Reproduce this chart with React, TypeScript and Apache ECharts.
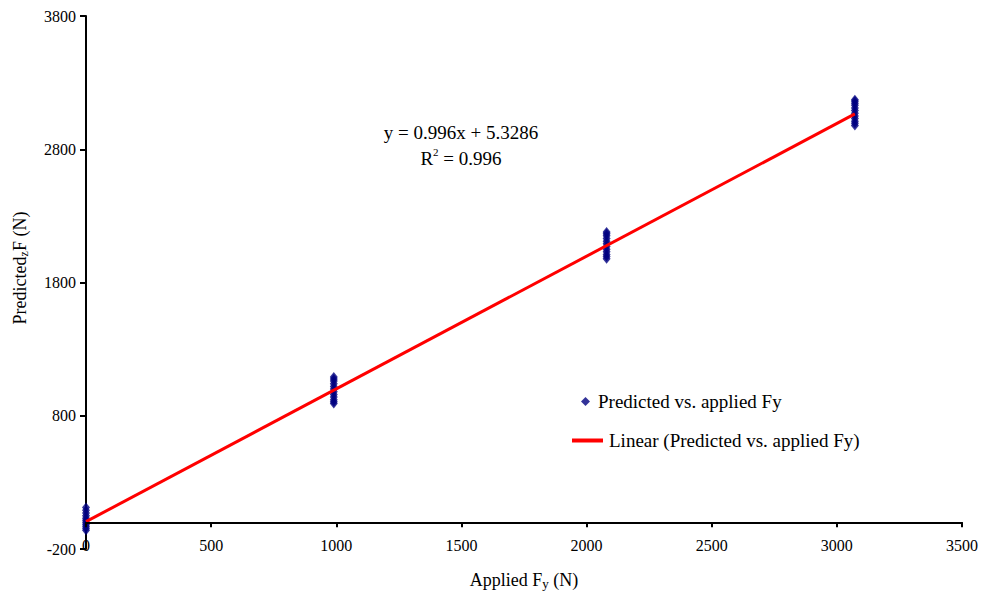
import React, { useEffect, useRef } from "react";
import * as echarts from "echarts";

const xTicks = [0, 500, 1000, 1500, 2000, 2500, 3000, 3500];
const yTicks = [-200, 800, 1800, 2800, 3800];

const appliedLevels = [0, 990, 2080, 3072];
const predicted0 = [-60, -45, -30, -15, 0, 15, 30, 50, 70, 90, 112];
const predicted1 = [891, 905, 920, 940, 960, 980, 1000, 1020, 1040, 1060, 1075, 1090];
const predicted2 = [1979, 1995, 2010, 2030, 2050, 2070, 2090, 2110, 2130, 2150, 2165, 2179];
const predicted3 = [2979, 2995, 3010, 3030, 3050, 3070, 3090, 3110, 3130, 3145, 3160, 3172];

const trendX = [0, 3072];
const trendY = [5.3, 3065];

const scatterName = "Predicted vs. applied Fy";
const lineName = "Linear (Predicted vs. applied Fy)";
const eqLine1 = "y = 0.996x + 5.3286";
const eqLine2 = " = 0.996";

export default function App() {
  const ref = useRef<HTMLDivElement>(null);
  useEffect(() => {
    if (!ref.current) return;
    const chart = echarts.init(ref.current, null, { renderer: "svg" });
    const groups = [predicted0, predicted1, predicted2, predicted3];
    const scatterData: number[][] = [];
    groups.forEach((g, i) => g.forEach((v) => scatterData.push([appliedLevels[i], v])));
    const font = "'Liberation Serif', 'Times New Roman', serif";
    const plotHeight = 591 - 16 - 42;
    const zeroOffset = (plotHeight * (0 - yTicks[0])) / (yTicks[yTicks.length - 1] - yTicks[0]);
    chart.setOption({
      animation: false,
      textStyle: { fontFamily: font },
      grid: { left: 86, right: 19, top: 16, bottom: 42, containLabel: false },
      xAxis: {
        type: "value",
        min: xTicks[0],
        max: xTicks[xTicks.length - 1],
        interval: 500,
        offset: -zeroOffset,
        axisLine: { onZero: false, lineStyle: { color: "#000", width: 2 } },
        axisTick: { show: true, length: 5, lineStyle: { color: "#000", width: 2 } },
        axisLabel: {
          color: "#000",
          fontSize: 16,
          fontFamily: font,
          margin: 15,
          showMinLabel: true,
          showMaxLabel: true,
          formatter: (v: number) => String(v),
        },
        splitLine: { show: false },
        z: 5,
      },
      yAxis: {
        type: "value",
        min: yTicks[0],
        max: yTicks[yTicks.length - 1],
        interval: 1000,
        axisLine: { show: true, onZero: false, lineStyle: { color: "#000", width: 2 } },
        axisTick: { show: true, length: 6, lineStyle: { color: "#000", width: 2 } },
        axisLabel: { color: "#000", fontSize: 16, fontFamily: font, margin: 10, formatter: (v: number) => String(v) },
        splitLine: { show: false },
      },
      legend: [
        {
          data: [{ name: scatterName, icon: "diamond" }],
          left: 576,
          top: 387,
          itemWidth: 9,
          itemHeight: 9,
          itemGap: 8,
          textStyle: { color: "#000", fontSize: 19, fontFamily: font, padding: [0, 0, 0, 3] },
          selectedMode: false,
        },
        {
          data: [{ name: lineName, icon: "rect" }],
          left: 567,
          top: 426,
          itemWidth: 31,
          itemHeight: 4,
          itemGap: 8,
          textStyle: { color: "#000", fontSize: 19, fontFamily: font, padding: [0, 0, 0, 1] },
          selectedMode: false,
        },
      ],
      series: [
        {
          name: scatterName,
          type: "scatter",
          symbol: "diamond",
          symbolSize: [8, 10],
          itemStyle: { color: "#000080" },
          data: scatterData,
          z: 2,
        },
        {
          name: lineName,
          type: "line",
          symbol: "none",
          lineStyle: { color: "#ff0000", width: 3 },
          itemStyle: { color: "#ff0000" },
          data: trendX.map((x, i) => [x, trendY[i]]),
          z: 3,
        },
      ],
      graphic: [
        {
          type: "text",
          x: 461,
          y: 132,
          style: {
            text: eqLine1,
            fontSize: 19,
            fontFamily: font,
            fill: "#000",
            align: "center",
            verticalAlign: "middle",
          },
        },
        {
          type: "text",
          x: 461,
          y: 158,
          style: {
            text: "{b|R}{sup|2}{b|" + eqLine2 + "}",
            fontFamily: font,
            fill: "#000",
            align: "center",
            verticalAlign: "middle",
            rich: {
              b: { fontSize: 19, fontFamily: font, fill: "#000" },
              sup: { fontSize: 11, fontFamily: font, fill: "#000", verticalAlign: "top", padding: [0, 0, 12, 0] },
            },
          },
        },
        {
          type: "text",
          x: 524,
          y: 580,
          style: {
            text: "{b|Applied F}{sub|y}{b| (N)}",
            fontFamily: font,
            fill: "#000",
            align: "center",
            verticalAlign: "middle",
            rich: {
              b: { fontSize: 18, fontFamily: font, fill: "#000" },
              sub: { fontSize: 13, fontFamily: font, fill: "#000", padding: [7, 0, 0, 0] },
            },
          },
        },
        {
          type: "text",
          x: 20,
          y: 268,
          rotation: Math.PI / 2,
          style: {
            text: "{b|Predicted}{sub|z}{b|F (N)}",
            fontFamily: font,
            fill: "#000",
            align: "center",
            verticalAlign: "middle",
            rich: {
              b: { fontSize: 18, fontFamily: font, fill: "#000" },
              sub: { fontSize: 12, fontFamily: font, fill: "#000", padding: [7, 0, 0, 0] },
            },
          },
        },
      ],
    });
    return () => chart.dispose();
  }, []);
  return <div ref={ref} style={{ width: 981, height: 591, position: "absolute", left: 0, top: 0 }} />;
}
